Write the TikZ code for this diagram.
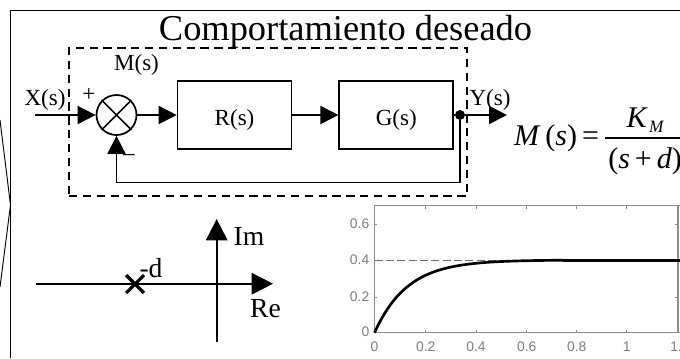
\documentclass[tikz,border=0pt]{standalone}
\usepackage{fontspec}
\setmainfont{Liberation Serif}
\setsansfont{Liberation Sans}
\usepackage{xcolor}
\definecolor{AxisGray}{RGB}{140,140,140}
\definecolor{LabelGray}{RGB}{125,125,125}
\usetikzlibrary{arrows.meta, positioning}
\newcommand{\pxfont}[1]{\fontsize{#1}{#1}\selectfont}
\tikzset{
  % Block diagram
  block/.style={
    rectangle, draw, line width=1.3pt,
    minimum width=85.5pt, minimum height=50.5pt,
    text height=15pt, text depth=0pt,
    inner sep=0pt, font=\pxfont{17.3}
  },
  sumnode/.style={circle, draw, line width=1.3pt, minimum size=30pt, inner sep=0pt},
  dotnode/.style={circle, fill=black, minimum size=7.5pt, inner sep=0pt},
  dashbox/.style={
    rectangle, draw, line width=1.3pt, dash pattern=on 6.2pt off 4.2pt,
    minimum width=298.5pt, minimum height=111pt, inner sep=0pt
  },
  % Arrows
  arr/.style={-{Triangle[length=13.5pt,width=13.5pt]}, line width=1.3pt},
  axisarr/.style={-{Triangle[length=16pt,width=16pt]}, line width=1.5pt},
  % Text
  lab/.style={font=\pxfont{17.3}, inner sep=0pt, anchor=base},
  biglab/.style={font=\pxfont{20.7}, inner sep=0pt, anchor=base},
  eqtext/.style={font=\pxfont{22.5}, inner sep=0pt, anchor=base},
  % Step response
  plotframe/.style={draw=AxisGray, line width=1pt},
  plottick/.style={draw=AxisGray, line width=.6pt},
  ticklab/.style={font=\sffamily\pxfont{10.4}, text=LabelGray, inner sep=0pt},
  resp/.style={line width=2pt, line join=round},
}
\begin{document}
\begin{tikzpicture}[x=.75pt, y=-.75pt]
  \useasboundingbox (0,0) rectangle (680,358);

  %% Outer frame
  \draw[line width=1pt] (680,10.5) -- (10.5,10.5) -- (10.5,358);
  \draw[line width=.7pt] (0,120) -- (10.5,205) -- (0,287);

  \node[font=\pxfont{27.3}, inner sep=0pt, anchor=base] (title) at (345.5,40.5) {Comportamiento deseado};

  %% Closed loop
  \node[dashbox] (mbox) at (268,122) {};
  \node[sumnode] (sum) at (116.5,115) {};
  \draw[line width=1.3pt] (sum.45) -- (sum.225) (sum.135) -- (sum.315);
  \node[block, right=29.5pt of sum] (rblock) {R(s)};
  \node[block, right=34.5pt of rblock] (gblock) {G(s)};
  \node[dotnode] (junc) at (460,115) {};

  \coordinate (xin) at (35,115);
  \coordinate (yout) at (507,115);
  \coordinate (fback) at (460,182.5);

  \draw[arr] (xin) -- (sum);
  \draw[arr] (sum) -- (rblock);
  \draw[arr] (rblock) -- (gblock);
  \draw[line width=1.3pt] (gblock) -- (junc);
  \draw[arr] (junc) -- (yout);
  \draw[arr] (junc) -- (fback) -| (sum.south);

  \node[lab] (xlab) at (45,105) {X(s)};
  \node[lab] (ylab) at (490,105) {Y(s)};
  \node[lab] (mlab) at (136.5,70) {M(s)};
  \node[lab] (plus) at (89,101.6) {+};
  \node[lab] (minus) at (129,160) {–};

  %% M(s)
  \node[eqtext] (eqleft) at (556.5,145) {\textit{M}\,(\textit{s})\,=};
  \node[eqtext] (eqnum) at (645.5,127) {\textit{K}\hspace{1pt}\raisebox{-4pt}{\pxfont{13}\textit{M}}};
  \node[eqtext, anchor=base west] (eqden) at (608,168) {(\textit{s}\,+\,\textit{d})};
  \draw[line width=1.3pt] (605,138) -- (680,138);

  %% Poles
  \coordinate (releft) at (36,283.7);
  \coordinate (reright) at (273,283.7);
  \coordinate (imlow) at (216.7,341.7);
  \coordinate (imup) at (216.7,219);
  \draw[axisarr] (releft) -- (reright);
  \draw[axisarr] (imlow) -- (imup);
  \node[inner sep=0pt, minimum size=13pt] (pole) at (135,284) {};
  \draw[line width=2.4pt] (pole.north west) -- (pole.south east)
    (pole.north east) -- (pole.south west);
  \node[biglab] (dlab) at (151,277.3) {-d};
  \node[biglab] (imlab) at (249,245) {Im};
  \node[biglab] (relab) at (265.5,317.7) {Re};

  %% Step response
  \draw[plotframe] (680,205.7) -- (374.3,205.7) -- (374.3,332.7) -- (680,332.7);
  \draw[plotframe] (678,205.7) -- (678,332.7);
  \foreach \xpos/\xtxt/\xname in {374.5/0/a, 425.7/0.2/b, 476/0.4/c, 526.7/0.6/d, 576.7/0.8/e, 626.7/1/f}{
    \draw[plottick] (\xpos,205.7) -- ++(0,3);
    \draw[plottick] (\xpos,332.7) -- ++(0,-3);
    \node[ticklab] (xt\xname) at (\xpos,346.7) {\xtxt};
  }
  \node[ticklab, anchor=west] (xtg) at (670,346.7) {1.};
  \foreach \ypos/\ytxt/\yname in {224/0.6/a, 260/0.4/b, 297/0.2/c}{
    \draw[plottick] (374.3,\ypos) -- ++(3,0);
    \draw[plottick] (678,\ypos) -- ++(-3,0);
    \node[ticklab, anchor=east] (yt\yname) at (369.5,\ypos) {\ytxt};
  }
  \node[ticklab, anchor=east] (yt) at (369.5,332) {0};
  \draw[AxisGray!80!black, line width=.8pt, dash pattern=on 6pt off 2.5pt] (374.5,260.3) -- (565,260.3);
  \draw[resp] plot[domain=0:.75, samples=60, variable=\t]
    ({374.5+252*\t},{332.7-181.75*.4*(1-exp(-\t/.13))});
  \draw[line width=2.6pt] (563,260.3) -- (680,260.3);
\end{tikzpicture}
\end{document}
